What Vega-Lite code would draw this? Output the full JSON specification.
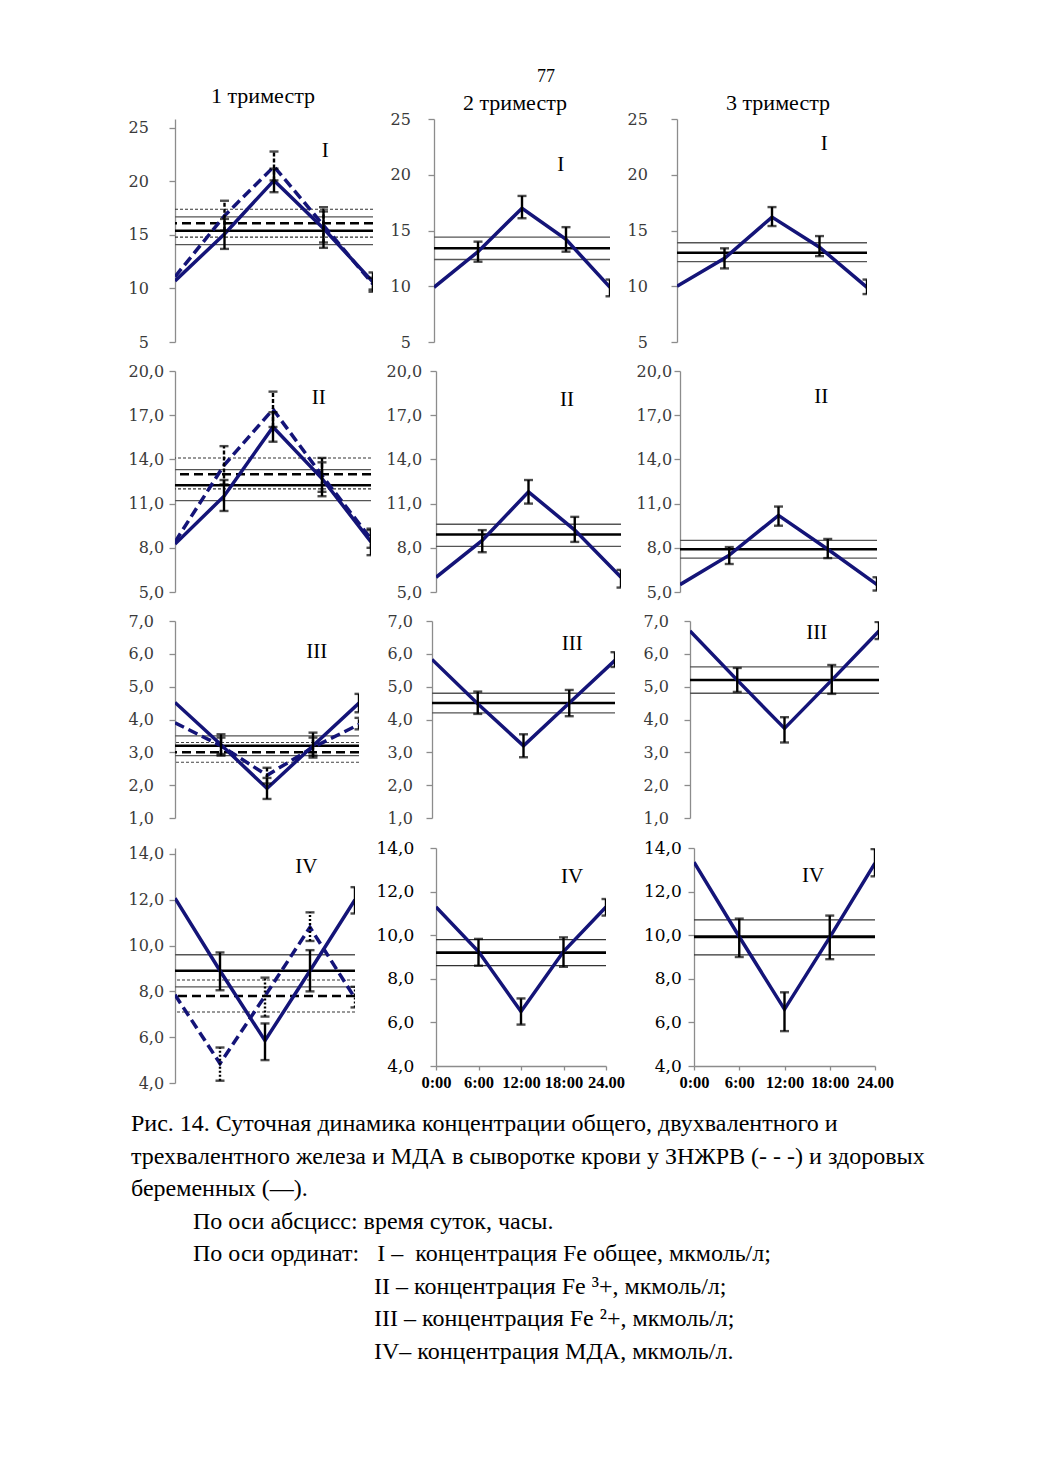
{
"$schema":"https://vega.github.io/schema/vega-lite/v6.json",
"padding":{"left":127,"top":68,"right":20,"bottom":20},
"background":"white",
"title":{"text":"77","fontSize":18,"anchor":"middle","dx":9.5,"offset":-1},
"config":{"view":{"stroke":null},"title":{"font":"Liberation Serif","fontSize":22,"fontWeight":"normal","color":"#000000","anchor":"middle"},
"axis":{"domainColor":"#8c8c8c","tickColor":"#8c8c8c","domainWidth":1.3,"tickWidth":1.3,"tickSize":6,"labelFont":"DejaVu Serif","labelFontSize":16,"labelColor":"#3a3a3a","grid":false,"labelOverlap":false}},
"datasets":{
"hl":[
{"p":"r1c1","k":"c","v":16.7},{"p":"r1c1","k":"m","v":15.4},{"p":"r1c1","k":"c","v":14.1},{"p":"r1c1","k":"zc","v":17.4},{"p":"r1c1","k":"zm","v":16.1},{"p":"r1c1","k":"zc","v":14.8},
{"p":"r1c2","k":"c","v":14.4},{"p":"r1c2","k":"m","v":13.4},{"p":"r1c2","k":"c","v":12.4},
{"p":"r1c3","k":"c","v":13.9},{"p":"r1c3","k":"m","v":13.0},{"p":"r1c3","k":"c","v":12.2},
{"p":"r2c1","k":"zc","v":14.1},{"p":"r2c1","k":"c","v":13.3},{"p":"r2c1","k":"zm","v":13.0},{"p":"r2c1","k":"m","v":12.25},{"p":"r2c1","k":"zc","v":12.0},{"p":"r2c1","k":"c","v":11.2},
{"p":"r2c2","k":"c","v":9.6},{"p":"r2c2","k":"m","v":8.9},{"p":"r2c2","k":"c","v":8.1},
{"p":"r2c3","k":"c","v":8.5},{"p":"r2c3","k":"m","v":7.9},{"p":"r2c3","k":"c","v":7.3},
{"p":"r3c1","k":"c","v":3.5},{"p":"r3c1","k":"zc","v":3.3},{"p":"r3c1","k":"m","v":3.2},{"p":"r3c1","k":"zm","v":3.0},{"p":"r3c1","k":"c","v":2.9},{"p":"r3c1","k":"zc","v":2.7},
{"p":"r3c2","k":"c","v":4.8},{"p":"r3c2","k":"m","v":4.5},{"p":"r3c2","k":"c","v":4.2},
{"p":"r3c3","k":"c","v":5.6},{"p":"r3c3","k":"m","v":5.2},{"p":"r3c3","k":"c","v":4.8},
{"p":"r4c1","k":"c","v":9.6},{"p":"r4c1","k":"m","v":8.9},{"p":"r4c1","k":"zc","v":8.5},{"p":"r4c1","k":"c","v":8.2},{"p":"r4c1","k":"zm","v":7.8},{"p":"r4c1","k":"zc","v":7.1},
{"p":"r4c2","k":"c","v":9.8},{"p":"r4c2","k":"m","v":9.2},{"p":"r4c2","k":"c","v":8.6},
{"p":"r4c3","k":"c","v":10.7},{"p":"r4c3","k":"m","v":9.93},{"p":"r4c3","k":"c","v":9.1}
],
"pts":[
{"p":"r1c1","s":"h","t":0,"v":10.7},{"p":"r1c1","s":"h","t":6,"v":15.1,"lo":13.7,"hi":16.5},{"p":"r1c1","s":"h","t":12,"v":20.1,"lo":19.0,"hi":21.2},{"p":"r1c1","s":"h","t":18,"v":15.6,"lo":13.8,"hi":17.2},{"p":"r1c1","s":"h","t":24,"v":10.6,"lo":9.7,"hi":11.5},
{"p":"r1c1","s":"z","t":0,"v":11.1},{"p":"r1c1","s":"z","t":6,"v":16.8,"lo":15.4,"hi":18.2},{"p":"r1c1","s":"z","t":12,"v":21.4,"lo":20.1,"hi":22.8},{"p":"r1c1","s":"z","t":18,"v":15.9,"lo":14.3,"hi":17.6},{"p":"r1c1","s":"z","t":24,"v":10.4,"lo":9.9,"hi":11.0},
{"p":"r1c2","s":"h","t":0,"v":9.9},{"p":"r1c2","s":"h","t":6,"v":13.1,"lo":12.2,"hi":14.0},{"p":"r1c2","s":"h","t":12,"v":17.0,"lo":16.1,"hi":18.1},{"p":"r1c2","s":"h","t":18,"v":14.2,"lo":13.1,"hi":15.3},{"p":"r1c2","s":"h","t":24,"v":9.9,"lo":9.1,"hi":10.6},
{"p":"r1c3","s":"h","t":0,"v":10.0},{"p":"r1c3","s":"h","t":6,"v":12.5,"lo":11.6,"hi":13.4},{"p":"r1c3","s":"h","t":12,"v":16.2,"lo":15.4,"hi":17.1},{"p":"r1c3","s":"h","t":18,"v":13.5,"lo":12.7,"hi":14.5},{"p":"r1c3","s":"h","t":24,"v":9.9,"lo":9.3,"hi":10.6},
{"p":"r2c1","s":"h","t":0,"v":8.25},{"p":"r2c1","s":"h","t":6,"v":11.5,"lo":10.5,"hi":12.6},{"p":"r2c1","s":"h","t":12,"v":16.2,"lo":15.2,"hi":17.2},{"p":"r2c1","s":"h","t":18,"v":12.7,"lo":11.5,"hi":13.8},{"p":"r2c1","s":"h","t":24,"v":8.4,"lo":7.5,"hi":9.2},
{"p":"r2c1","s":"z","t":0,"v":8.4},{"p":"r2c1","s":"z","t":6,"v":13.6,"lo":12.3,"hi":14.9},{"p":"r2c1","s":"z","t":12,"v":17.4,"lo":16.2,"hi":18.6},{"p":"r2c1","s":"z","t":18,"v":12.9,"lo":11.8,"hi":14.1},{"p":"r2c1","s":"z","t":24,"v":8.6,"lo":8.0,"hi":9.3},
{"p":"r2c2","s":"h","t":0,"v":6.0},{"p":"r2c2","s":"h","t":6,"v":8.5,"lo":7.7,"hi":9.2},{"p":"r2c2","s":"h","t":12,"v":11.8,"lo":11.0,"hi":12.6},{"p":"r2c2","s":"h","t":18,"v":9.2,"lo":8.4,"hi":10.1},{"p":"r2c2","s":"h","t":24,"v":6.0,"lo":5.3,"hi":6.5},
{"p":"r2c3","s":"h","t":0,"v":5.5},{"p":"r2c3","s":"h","t":6,"v":7.5,"lo":6.9,"hi":8.05},{"p":"r2c3","s":"h","t":12,"v":10.2,"lo":9.5,"hi":10.8},{"p":"r2c3","s":"h","t":18,"v":7.9,"lo":7.3,"hi":8.6},{"p":"r2c3","s":"h","t":24,"v":5.5,"lo":5.1,"hi":6.0},
{"p":"r3c1","s":"h","t":0,"v":4.52},{"p":"r3c1","s":"h","t":6,"v":3.23,"lo":2.9,"hi":3.55},{"p":"r3c1","s":"h","t":12,"v":1.9,"lo":1.58,"hi":2.22},{"p":"r3c1","s":"h","t":18,"v":3.2,"lo":2.84,"hi":3.6},{"p":"r3c1","s":"h","t":24,"v":4.5,"lo":4.22,"hi":4.78},
{"p":"r3c1","s":"z","t":0,"v":3.9},{"p":"r3c1","s":"z","t":6,"v":3.2,"lo":2.95,"hi":3.45},{"p":"r3c1","s":"z","t":12,"v":2.3,"lo":2.05,"hi":2.53},{"p":"r3c1","s":"z","t":18,"v":3.15,"lo":2.9,"hi":3.45},{"p":"r3c1","s":"z","t":24,"v":3.85,"lo":3.7,"hi":4.05},
{"p":"r3c2","s":"h","t":0,"v":5.83},{"p":"r3c2","s":"h","t":6,"v":4.48,"lo":4.17,"hi":4.85},{"p":"r3c2","s":"h","t":12,"v":3.2,"lo":2.85,"hi":3.55},{"p":"r3c2","s":"h","t":18,"v":4.5,"lo":4.1,"hi":4.9},{"p":"r3c2","s":"h","t":24,"v":5.8,"lo":5.6,"hi":6.05},
{"p":"r3c3","s":"h","t":0,"v":6.7},{"p":"r3c3","s":"h","t":6,"v":5.2,"lo":4.84,"hi":5.57},{"p":"r3c3","s":"h","t":12,"v":3.73,"lo":3.3,"hi":4.07},{"p":"r3c3","s":"h","t":18,"v":5.2,"lo":4.78,"hi":5.66},{"p":"r3c3","s":"h","t":24,"v":6.7,"lo":6.45,"hi":6.97},
{"p":"r4c1","s":"h","t":0,"v":12.07},{"p":"r4c1","s":"h","t":6,"v":8.9,"lo":8.05,"hi":9.7},{"p":"r4c1","s":"h","t":12,"v":5.85,"lo":5.0,"hi":6.6},{"p":"r4c1","s":"h","t":18,"v":8.9,"lo":8.0,"hi":9.8},{"p":"r4c1","s":"h","t":24,"v":12.0,"lo":11.4,"hi":12.55},
{"p":"r4c1","s":"z","t":0,"v":7.85},{"p":"r4c1","s":"z","t":6,"v":4.85,"lo":4.1,"hi":5.55},{"p":"r4c1","s":"z","t":12,"v":7.8,"lo":6.9,"hi":8.6},{"p":"r4c1","s":"z","t":18,"v":10.8,"lo":10.2,"hi":11.45},{"p":"r4c1","s":"z","t":24,"v":7.7,"lo":7.3,"hi":8.2},
{"p":"r4c2","s":"h","t":0,"v":11.3},{"p":"r4c2","s":"h","t":6,"v":9.25,"lo":8.6,"hi":9.83},{"p":"r4c2","s":"h","t":12,"v":6.5,"lo":5.9,"hi":7.1},{"p":"r4c2","s":"h","t":18,"v":9.25,"lo":8.55,"hi":9.9},{"p":"r4c2","s":"h","t":24,"v":11.3,"lo":10.9,"hi":11.66},
{"p":"r4c3","s":"h","t":0,"v":13.35},{"p":"r4c3","s":"h","t":6,"v":9.93,"lo":9.0,"hi":10.76},{"p":"r4c3","s":"h","t":12,"v":6.6,"lo":5.6,"hi":7.38},{"p":"r4c3","s":"h","t":18,"v":9.9,"lo":8.9,"hi":10.9},{"p":"r4c3","s":"h","t":24,"v":13.3,"lo":12.7,"hi":13.95}
],
"cap":[
{"ln":1,"ind":0,"txt":"Рис. 14. Суточная динамика концентрации общего, двухвалентного и"},
{"ln":2,"ind":0,"txt":"трехвалентного железа и МДА в сыворотке крови у ЗНЖРВ (- - -) и здоровых"},
{"ln":3,"ind":0,"txt":"беременных (—)."},
{"ln":4,"ind":1,"txt":"По оси абсцисс: время суток, часы."},
{"ln":5,"ind":1,"txt":"По оси ординат:\u00a0\u00a0\u00a0I –\u00a0\u00a0концентрация Fe общее, мкмоль/л;"},
{"ln":6,"ind":2,"txt":"II – концентрация Fe ³+, мкмоль/л;"},
{"ln":7,"ind":2,"txt":"III – концентрация Fe ²+, мкмоль/л;"},
{"ln":8,"ind":2,"txt":"IV– концентрация МДА, мкмоль/л."}
]},
"vconcat":[
{"hconcat":[
{"width":198,"height":223,"title":{"text":"1 триместр","offset":11,"dx":-11},"layer":[
{"data":{"name":"hl"},"transform":[{"filter":"datum.p=='r1c1'&&datum.k=='c'"}],"mark":{"type":"rule","color":"#555555","strokeWidth":1.3},"encoding":{"y":{"field":"v","type":"quantitative","title":null,"scale":{"domain":[5,25.84],"nice":false,"zero":false},"axis":{"values":[5,10,15,20,25],"tickCount":10,"labelPadding":20.6,"labelOverlap":false}}}},
{"data":{"name":"hl"},"transform":[{"filter":"datum.p=='r1c1'&&datum.k=='zc'"}],"mark":{"type":"rule","color":"#333333","strokeWidth":1.1,"strokeDash":[3,2]},"encoding":{"y":{"field":"v","type":"quantitative","title":null,"scale":{"domain":[5,25.84],"nice":false,"zero":false}}}},
{"data":{"name":"hl"},"transform":[{"filter":"datum.p=='r1c1'&&datum.k=='m'"}],"mark":{"type":"rule","color":"#000000","strokeWidth":2.5},"encoding":{"y":{"field":"v","type":"quantitative","title":null,"scale":{"domain":[5,25.84],"nice":false,"zero":false}}}},
{"data":{"name":"hl"},"transform":[{"filter":"datum.p=='r1c1'&&datum.k=='zm'"}],"mark":{"type":"rule","color":"#000000","strokeWidth":2.5,"strokeDash":[9,5]},"encoding":{"y":{"field":"v","type":"quantitative","title":null,"scale":{"domain":[5,25.84],"nice":false,"zero":false}}}},
{"data":{"name":"pts"},"transform":[{"filter":"datum.p=='r1c1'&&datum.s=='z'"}],"mark":{"type":"line","clip":true,"color":"#141478","strokeWidth":3.5,"strokeDash":[10,5]},"encoding":{"x":{"field":"t","type":"quantitative","title":null,"scale":{"domain":[0,24],"nice":false},"axis":null},"y":{"field":"v","type":"quantitative","title":null,"scale":{"domain":[5,25.84],"nice":false,"zero":false}}}},
{"data":{"name":"pts"},"transform":[{"filter":"datum.p=='r1c1'&&datum.s=='h'"}],"mark":{"type":"line","clip":true,"color":"#141478","strokeWidth":3.5},"encoding":{"x":{"field":"t","type":"quantitative","title":null,"scale":{"domain":[0,24],"nice":false},"axis":null},"y":{"field":"v","type":"quantitative","title":null,"scale":{"domain":[5,25.84],"nice":false,"zero":false}}}},
{"data":{"name":"pts"},"transform":[{"filter":"datum.p=='r1c1'&&datum.s=='z'&&isValid(datum.lo)"}],"mark":{"type":"rule","clip":true,"color":"#000000","strokeWidth":2.4,"strokeDash":[4,2]},"encoding":{"x":{"field":"t","type":"quantitative","title":null,"scale":{"domain":[0,24],"nice":false},"axis":null},"y":{"field":"lo","type":"quantitative","title":null,"scale":{"domain":[5,25.84],"nice":false,"zero":false}},"y2":{"field":"hi"}}},
{"data":{"name":"pts"},"transform":[{"filter":"datum.p=='r1c1'&&datum.s=='h'&&isValid(datum.lo)"}],"mark":{"type":"rule","clip":true,"color":"#000000","strokeWidth":2.4},"encoding":{"x":{"field":"t","type":"quantitative","title":null,"scale":{"domain":[0,24],"nice":false},"axis":null},"y":{"field":"lo","type":"quantitative","title":null,"scale":{"domain":[5,25.84],"nice":false,"zero":false}},"y2":{"field":"hi"}}},
{"data":{"name":"pts"},"transform":[{"filter":"datum.p=='r1c1'&&isValid(datum.lo)"}],"mark":{"type":"tick","orient":"horizontal","clip":true,"color":"#000000","thickness":2.4,"size":9},"encoding":{"x":{"field":"t","type":"quantitative","title":null,"scale":{"domain":[0,24],"nice":false},"axis":null},"y":{"field":"lo","type":"quantitative","title":null,"scale":{"domain":[5,25.84],"nice":false,"zero":false}}}},
{"data":{"name":"pts"},"transform":[{"filter":"datum.p=='r1c1'&&isValid(datum.lo)"}],"mark":{"type":"tick","orient":"horizontal","clip":true,"color":"#000000","thickness":2.4,"size":9},"encoding":{"x":{"field":"t","type":"quantitative","title":null,"scale":{"domain":[0,24],"nice":false},"axis":null},"y":{"field":"hi","type":"quantitative","title":null,"scale":{"domain":[5,25.84],"nice":false,"zero":false}}}},
{"data":{"values":[{}]},"mark":{"type":"text","font":"Liberation Serif","fontSize":21,"color":"#000000"},"encoding":{"x":{"datum":18.2,"type":"quantitative","title":null,"scale":{"domain":[0,24],"nice":false},"axis":null},"y":{"datum":22.85,"type":"quantitative","title":null,"scale":{"domain":[5,25.84],"nice":false,"zero":false}},"text":{"value":"I"}}}
]},
{"width":176,"height":223,"title":{"text":"2 триместр","offset":9,"dy":13,"dx":-7},"layer":[
{"data":{"name":"hl"},"transform":[{"filter":"datum.p=='r1c2'&&datum.k=='c'"}],"mark":{"type":"rule","color":"#555555","strokeWidth":1.3},"encoding":{"y":{"field":"v","type":"quantitative","title":null,"scale":{"domain":[5,25],"nice":false,"zero":false},"axis":{"values":[5,10,15,20,25],"tickCount":10,"labelPadding":17.6,"labelOverlap":false}}}},
{"data":{"name":"hl"},"transform":[{"filter":"datum.p=='r1c2'&&datum.k=='m'"}],"mark":{"type":"rule","color":"#000000","strokeWidth":2.5},"encoding":{"y":{"field":"v","type":"quantitative","title":null,"scale":{"domain":[5,25],"nice":false,"zero":false}}}},
{"data":{"name":"pts"},"transform":[{"filter":"datum.p=='r1c2'&&datum.s=='h'"}],"mark":{"type":"line","clip":true,"color":"#141478","strokeWidth":3.5},"encoding":{"x":{"field":"t","type":"quantitative","title":null,"scale":{"domain":[0,24],"nice":false},"axis":null},"y":{"field":"v","type":"quantitative","title":null,"scale":{"domain":[5,25],"nice":false,"zero":false}}}},
{"data":{"name":"pts"},"transform":[{"filter":"datum.p=='r1c2'&&isValid(datum.lo)"}],"mark":{"type":"rule","clip":true,"color":"#000000","strokeWidth":2.4},"encoding":{"x":{"field":"t","type":"quantitative","title":null,"scale":{"domain":[0,24],"nice":false},"axis":null},"y":{"field":"lo","type":"quantitative","title":null,"scale":{"domain":[5,25],"nice":false,"zero":false}},"y2":{"field":"hi"}}},
{"data":{"name":"pts"},"transform":[{"filter":"datum.p=='r1c2'&&isValid(datum.lo)"}],"mark":{"type":"tick","orient":"horizontal","clip":true,"color":"#000000","thickness":2.4,"size":9},"encoding":{"x":{"field":"t","type":"quantitative","title":null,"scale":{"domain":[0,24],"nice":false},"axis":null},"y":{"field":"lo","type":"quantitative","title":null,"scale":{"domain":[5,25],"nice":false,"zero":false}}}},
{"data":{"name":"pts"},"transform":[{"filter":"datum.p=='r1c2'&&isValid(datum.lo)"}],"mark":{"type":"tick","orient":"horizontal","clip":true,"color":"#000000","thickness":2.4,"size":9},"encoding":{"x":{"field":"t","type":"quantitative","title":null,"scale":{"domain":[0,24],"nice":false},"axis":null},"y":{"field":"hi","type":"quantitative","title":null,"scale":{"domain":[5,25],"nice":false,"zero":false}}}},
{"data":{"values":[{}]},"mark":{"type":"text","font":"Liberation Serif","fontSize":21,"color":"#000000"},"encoding":{"x":{"datum":17.3,"type":"quantitative","title":null,"scale":{"domain":[0,24],"nice":false},"axis":null},"y":{"datum":20.9,"type":"quantitative","title":null,"scale":{"domain":[5,25],"nice":false,"zero":false}},"text":{"value":"I"}}}
]},
{"width":190,"height":223,"title":{"text":"3 триместр","offset":9,"dy":13,"dx":6},"layer":[
{"data":{"name":"hl"},"transform":[{"filter":"datum.p=='r1c3'&&datum.k=='c'"}],"mark":{"type":"rule","color":"#555555","strokeWidth":1.3},"encoding":{"y":{"field":"v","type":"quantitative","title":null,"scale":{"domain":[5,25],"nice":false,"zero":false},"axis":{"values":[5,10,15,20,25],"tickCount":10,"labelPadding":23.6,"labelOverlap":false}}}},
{"data":{"name":"hl"},"transform":[{"filter":"datum.p=='r1c3'&&datum.k=='m'"}],"mark":{"type":"rule","color":"#000000","strokeWidth":2.5},"encoding":{"y":{"field":"v","type":"quantitative","title":null,"scale":{"domain":[5,25],"nice":false,"zero":false}}}},
{"data":{"name":"pts"},"transform":[{"filter":"datum.p=='r1c3'&&datum.s=='h'"}],"mark":{"type":"line","clip":true,"color":"#141478","strokeWidth":3.5},"encoding":{"x":{"field":"t","type":"quantitative","title":null,"scale":{"domain":[0,24],"nice":false},"axis":null},"y":{"field":"v","type":"quantitative","title":null,"scale":{"domain":[5,25],"nice":false,"zero":false}}}},
{"data":{"name":"pts"},"transform":[{"filter":"datum.p=='r1c3'&&isValid(datum.lo)"}],"mark":{"type":"rule","clip":true,"color":"#000000","strokeWidth":2.4},"encoding":{"x":{"field":"t","type":"quantitative","title":null,"scale":{"domain":[0,24],"nice":false},"axis":null},"y":{"field":"lo","type":"quantitative","title":null,"scale":{"domain":[5,25],"nice":false,"zero":false}},"y2":{"field":"hi"}}},
{"data":{"name":"pts"},"transform":[{"filter":"datum.p=='r1c3'&&isValid(datum.lo)"}],"mark":{"type":"tick","orient":"horizontal","clip":true,"color":"#000000","thickness":2.4,"size":9},"encoding":{"x":{"field":"t","type":"quantitative","title":null,"scale":{"domain":[0,24],"nice":false},"axis":null},"y":{"field":"lo","type":"quantitative","title":null,"scale":{"domain":[5,25],"nice":false,"zero":false}}}},
{"data":{"name":"pts"},"transform":[{"filter":"datum.p=='r1c3'&&isValid(datum.lo)"}],"mark":{"type":"tick","orient":"horizontal","clip":true,"color":"#000000","thickness":2.4,"size":9},"encoding":{"x":{"field":"t","type":"quantitative","title":null,"scale":{"domain":[0,24],"nice":false},"axis":null},"y":{"field":"hi","type":"quantitative","title":null,"scale":{"domain":[5,25],"nice":false,"zero":false}}}},
{"data":{"values":[{}]},"mark":{"type":"text","font":"Liberation Serif","fontSize":21,"color":"#000000"},"encoding":{"x":{"datum":18.6,"type":"quantitative","title":null,"scale":{"domain":[0,24],"nice":false},"axis":null},"y":{"datum":22.75,"type":"quantitative","title":null,"scale":{"domain":[5,25],"nice":false,"zero":false}},"text":{"value":"I"}}}
]}
],"spacing":15},
{"hconcat":[
{"width":196,"height":221,"layer":[
{"data":{"name":"hl"},"transform":[{"filter":"datum.p=='r2c1'&&datum.k=='c'"}],"mark":{"type":"rule","color":"#555555","strokeWidth":1.3},"encoding":{"y":{"field":"v","type":"quantitative","title":null,"scale":{"domain":[5,20],"nice":false,"zero":false},"axis":{"values":[5,8,11,14,17,20],"tickCount":10,"labelExpr":"replace(format(datum.value,'.1f'),'.',',')","labelPadding":5.4,"labelOverlap":false}}}},
{"data":{"name":"hl"},"transform":[{"filter":"datum.p=='r2c1'&&datum.k=='zc'"}],"mark":{"type":"rule","color":"#333333","strokeWidth":1.1,"strokeDash":[3,2]},"encoding":{"y":{"field":"v","type":"quantitative","title":null,"scale":{"domain":[5,20],"nice":false,"zero":false}}}},
{"data":{"name":"hl"},"transform":[{"filter":"datum.p=='r2c1'&&datum.k=='m'"}],"mark":{"type":"rule","color":"#000000","strokeWidth":2.5},"encoding":{"y":{"field":"v","type":"quantitative","title":null,"scale":{"domain":[5,20],"nice":false,"zero":false}}}},
{"data":{"name":"hl"},"transform":[{"filter":"datum.p=='r2c1'&&datum.k=='zm'"}],"mark":{"type":"rule","color":"#000000","strokeWidth":2.5,"strokeDash":[9,5]},"encoding":{"y":{"field":"v","type":"quantitative","title":null,"scale":{"domain":[5,20],"nice":false,"zero":false}}}},
{"data":{"name":"pts"},"transform":[{"filter":"datum.p=='r2c1'&&datum.s=='z'"}],"mark":{"type":"line","clip":true,"color":"#141478","strokeWidth":3.5,"strokeDash":[10,5]},"encoding":{"x":{"field":"t","type":"quantitative","title":null,"scale":{"domain":[0,24],"nice":false},"axis":null},"y":{"field":"v","type":"quantitative","title":null,"scale":{"domain":[5,20],"nice":false,"zero":false}}}},
{"data":{"name":"pts"},"transform":[{"filter":"datum.p=='r2c1'&&datum.s=='h'"}],"mark":{"type":"line","clip":true,"color":"#141478","strokeWidth":3.5},"encoding":{"x":{"field":"t","type":"quantitative","title":null,"scale":{"domain":[0,24],"nice":false},"axis":null},"y":{"field":"v","type":"quantitative","title":null,"scale":{"domain":[5,20],"nice":false,"zero":false}}}},
{"data":{"name":"pts"},"transform":[{"filter":"datum.p=='r2c1'&&datum.s=='z'&&isValid(datum.lo)"}],"mark":{"type":"rule","clip":true,"color":"#000000","strokeWidth":2.4,"strokeDash":[4,2]},"encoding":{"x":{"field":"t","type":"quantitative","title":null,"scale":{"domain":[0,24],"nice":false},"axis":null},"y":{"field":"lo","type":"quantitative","title":null,"scale":{"domain":[5,20],"nice":false,"zero":false}},"y2":{"field":"hi"}}},
{"data":{"name":"pts"},"transform":[{"filter":"datum.p=='r2c1'&&datum.s=='h'&&isValid(datum.lo)"}],"mark":{"type":"rule","clip":true,"color":"#000000","strokeWidth":2.4},"encoding":{"x":{"field":"t","type":"quantitative","title":null,"scale":{"domain":[0,24],"nice":false},"axis":null},"y":{"field":"lo","type":"quantitative","title":null,"scale":{"domain":[5,20],"nice":false,"zero":false}},"y2":{"field":"hi"}}},
{"data":{"name":"pts"},"transform":[{"filter":"datum.p=='r2c1'&&isValid(datum.lo)"}],"mark":{"type":"tick","orient":"horizontal","clip":true,"color":"#000000","thickness":2.4,"size":9},"encoding":{"x":{"field":"t","type":"quantitative","title":null,"scale":{"domain":[0,24],"nice":false},"axis":null},"y":{"field":"lo","type":"quantitative","title":null,"scale":{"domain":[5,20],"nice":false,"zero":false}}}},
{"data":{"name":"pts"},"transform":[{"filter":"datum.p=='r2c1'&&isValid(datum.lo)"}],"mark":{"type":"tick","orient":"horizontal","clip":true,"color":"#000000","thickness":2.4,"size":9},"encoding":{"x":{"field":"t","type":"quantitative","title":null,"scale":{"domain":[0,24],"nice":false},"axis":null},"y":{"field":"hi","type":"quantitative","title":null,"scale":{"domain":[5,20],"nice":false,"zero":false}}}},
{"data":{"values":[{}]},"mark":{"type":"text","font":"Liberation Serif","fontSize":21,"color":"#000000"},"encoding":{"x":{"datum":17.6,"type":"quantitative","title":null,"scale":{"domain":[0,24],"nice":false},"axis":null},"y":{"datum":18.2,"type":"quantitative","title":null,"scale":{"domain":[5,20],"nice":false,"zero":false}},"text":{"value":"II"}}}
]},
{"width":185,"height":221,"layer":[
{"data":{"name":"hl"},"transform":[{"filter":"datum.p=='r2c2'&&datum.k=='c'"}],"mark":{"type":"rule","color":"#555555","strokeWidth":1.3},"encoding":{"y":{"field":"v","type":"quantitative","title":null,"scale":{"domain":[5,20],"nice":false,"zero":false},"axis":{"values":[5,8,11,14,17,20],"tickCount":10,"labelExpr":"replace(format(datum.value,'.1f'),'.',',')","labelPadding":8.4,"labelOverlap":false}}}},
{"data":{"name":"hl"},"transform":[{"filter":"datum.p=='r2c2'&&datum.k=='m'"}],"mark":{"type":"rule","color":"#000000","strokeWidth":2.5},"encoding":{"y":{"field":"v","type":"quantitative","title":null,"scale":{"domain":[5,20],"nice":false,"zero":false}}}},
{"data":{"name":"pts"},"transform":[{"filter":"datum.p=='r2c2'&&datum.s=='h'"}],"mark":{"type":"line","clip":true,"color":"#141478","strokeWidth":3.5},"encoding":{"x":{"field":"t","type":"quantitative","title":null,"scale":{"domain":[0,24],"nice":false},"axis":null},"y":{"field":"v","type":"quantitative","title":null,"scale":{"domain":[5,20],"nice":false,"zero":false}}}},
{"data":{"name":"pts"},"transform":[{"filter":"datum.p=='r2c2'&&isValid(datum.lo)"}],"mark":{"type":"rule","clip":true,"color":"#000000","strokeWidth":2.4},"encoding":{"x":{"field":"t","type":"quantitative","title":null,"scale":{"domain":[0,24],"nice":false},"axis":null},"y":{"field":"lo","type":"quantitative","title":null,"scale":{"domain":[5,20],"nice":false,"zero":false}},"y2":{"field":"hi"}}},
{"data":{"name":"pts"},"transform":[{"filter":"datum.p=='r2c2'&&isValid(datum.lo)"}],"mark":{"type":"tick","orient":"horizontal","clip":true,"color":"#000000","thickness":2.4,"size":9},"encoding":{"x":{"field":"t","type":"quantitative","title":null,"scale":{"domain":[0,24],"nice":false},"axis":null},"y":{"field":"lo","type":"quantitative","title":null,"scale":{"domain":[5,20],"nice":false,"zero":false}}}},
{"data":{"name":"pts"},"transform":[{"filter":"datum.p=='r2c2'&&isValid(datum.lo)"}],"mark":{"type":"tick","orient":"horizontal","clip":true,"color":"#000000","thickness":2.4,"size":9},"encoding":{"x":{"field":"t","type":"quantitative","title":null,"scale":{"domain":[0,24],"nice":false},"axis":null},"y":{"field":"hi","type":"quantitative","title":null,"scale":{"domain":[5,20],"nice":false,"zero":false}}}},
{"data":{"values":[{}]},"mark":{"type":"text","font":"Liberation Serif","fontSize":21,"color":"#000000"},"encoding":{"x":{"datum":17.0,"type":"quantitative","title":null,"scale":{"domain":[0,24],"nice":false},"axis":null},"y":{"datum":18.0,"type":"quantitative","title":null,"scale":{"domain":[5,20],"nice":false,"zero":false}},"text":{"value":"II"}}}
]},
{"width":197,"height":221,"layer":[
{"data":{"name":"hl"},"transform":[{"filter":"datum.p=='r2c3'&&datum.k=='c'"}],"mark":{"type":"rule","color":"#555555","strokeWidth":1.3},"encoding":{"y":{"field":"v","type":"quantitative","title":null,"scale":{"domain":[5,20],"nice":false,"zero":false},"axis":{"values":[5,8,11,14,17,20],"tickCount":10,"labelExpr":"replace(format(datum.value,'.1f'),'.',',')","labelPadding":2.4,"labelOverlap":false}}}},
{"data":{"name":"hl"},"transform":[{"filter":"datum.p=='r2c3'&&datum.k=='m'"}],"mark":{"type":"rule","color":"#000000","strokeWidth":2.5},"encoding":{"y":{"field":"v","type":"quantitative","title":null,"scale":{"domain":[5,20],"nice":false,"zero":false}}}},
{"data":{"name":"pts"},"transform":[{"filter":"datum.p=='r2c3'&&datum.s=='h'"}],"mark":{"type":"line","clip":true,"color":"#141478","strokeWidth":3.5},"encoding":{"x":{"field":"t","type":"quantitative","title":null,"scale":{"domain":[0,24],"nice":false},"axis":null},"y":{"field":"v","type":"quantitative","title":null,"scale":{"domain":[5,20],"nice":false,"zero":false}}}},
{"data":{"name":"pts"},"transform":[{"filter":"datum.p=='r2c3'&&isValid(datum.lo)"}],"mark":{"type":"rule","clip":true,"color":"#000000","strokeWidth":2.4},"encoding":{"x":{"field":"t","type":"quantitative","title":null,"scale":{"domain":[0,24],"nice":false},"axis":null},"y":{"field":"lo","type":"quantitative","title":null,"scale":{"domain":[5,20],"nice":false,"zero":false}},"y2":{"field":"hi"}}},
{"data":{"name":"pts"},"transform":[{"filter":"datum.p=='r2c3'&&isValid(datum.lo)"}],"mark":{"type":"tick","orient":"horizontal","clip":true,"color":"#000000","thickness":2.4,"size":9},"encoding":{"x":{"field":"t","type":"quantitative","title":null,"scale":{"domain":[0,24],"nice":false},"axis":null},"y":{"field":"lo","type":"quantitative","title":null,"scale":{"domain":[5,20],"nice":false,"zero":false}}}},
{"data":{"name":"pts"},"transform":[{"filter":"datum.p=='r2c3'&&isValid(datum.lo)"}],"mark":{"type":"tick","orient":"horizontal","clip":true,"color":"#000000","thickness":2.4,"size":9},"encoding":{"x":{"field":"t","type":"quantitative","title":null,"scale":{"domain":[0,24],"nice":false},"axis":null},"y":{"field":"hi","type":"quantitative","title":null,"scale":{"domain":[5,20],"nice":false,"zero":false}}}},
{"data":{"values":[{}]},"mark":{"type":"text","font":"Liberation Serif","fontSize":21,"color":"#000000"},"encoding":{"x":{"datum":17.2,"type":"quantitative","title":null,"scale":{"domain":[0,24],"nice":false},"axis":null},"y":{"datum":18.26,"type":"quantitative","title":null,"scale":{"domain":[5,20],"nice":false,"zero":false}},"text":{"value":"II"}}}
]}
],"spacing":12},
{"hconcat":[
{"width":184,"height":197,"layer":[
{"data":{"name":"hl"},"transform":[{"filter":"datum.p=='r3c1'&&datum.k=='c'"}],"mark":{"type":"rule","color":"#555555","strokeWidth":1.3},"encoding":{"y":{"field":"v","type":"quantitative","title":null,"scale":{"domain":[1,7],"nice":false,"zero":false},"axis":{"values":[1,2,3,4,5,6,7],"tickCount":10,"labelExpr":"replace(format(datum.value,'.1f'),'.',',')","labelPadding":15.6,"labelOverlap":false}}}},
{"data":{"name":"hl"},"transform":[{"filter":"datum.p=='r3c1'&&datum.k=='zc'"}],"mark":{"type":"rule","color":"#444444","strokeWidth":1.1,"strokeDash":[3,2]},"encoding":{"y":{"field":"v","type":"quantitative","title":null,"scale":{"domain":[1,7],"nice":false,"zero":false}}}},
{"data":{"name":"hl"},"transform":[{"filter":"datum.p=='r3c1'&&datum.k=='m'"}],"mark":{"type":"rule","color":"#000000","strokeWidth":2.5},"encoding":{"y":{"field":"v","type":"quantitative","title":null,"scale":{"domain":[1,7],"nice":false,"zero":false}}}},
{"data":{"name":"hl"},"transform":[{"filter":"datum.p=='r3c1'&&datum.k=='zm'"}],"mark":{"type":"rule","color":"#000000","strokeWidth":2.5,"strokeDash":[9,5]},"encoding":{"y":{"field":"v","type":"quantitative","title":null,"scale":{"domain":[1,7],"nice":false,"zero":false}}}},
{"data":{"name":"pts"},"transform":[{"filter":"datum.p=='r3c1'&&datum.s=='z'"}],"mark":{"type":"line","clip":true,"color":"#141478","strokeWidth":3.5,"strokeDash":[10,5]},"encoding":{"x":{"field":"t","type":"quantitative","title":null,"scale":{"domain":[0,24],"nice":false},"axis":null},"y":{"field":"v","type":"quantitative","title":null,"scale":{"domain":[1,7],"nice":false,"zero":false}}}},
{"data":{"name":"pts"},"transform":[{"filter":"datum.p=='r3c1'&&datum.s=='h'"}],"mark":{"type":"line","clip":true,"color":"#141478","strokeWidth":3.5},"encoding":{"x":{"field":"t","type":"quantitative","title":null,"scale":{"domain":[0,24],"nice":false},"axis":null},"y":{"field":"v","type":"quantitative","title":null,"scale":{"domain":[1,7],"nice":false,"zero":false}}}},
{"data":{"name":"pts"},"transform":[{"filter":"datum.p=='r3c1'&&datum.s=='z'&&isValid(datum.lo)"}],"mark":{"type":"rule","clip":true,"color":"#000000","strokeWidth":2.4,"strokeDash":[4,2]},"encoding":{"x":{"field":"t","type":"quantitative","title":null,"scale":{"domain":[0,24],"nice":false},"axis":null},"y":{"field":"lo","type":"quantitative","title":null,"scale":{"domain":[1,7],"nice":false,"zero":false}},"y2":{"field":"hi"}}},
{"data":{"name":"pts"},"transform":[{"filter":"datum.p=='r3c1'&&datum.s=='h'&&isValid(datum.lo)"}],"mark":{"type":"rule","clip":true,"color":"#000000","strokeWidth":2.4},"encoding":{"x":{"field":"t","type":"quantitative","title":null,"scale":{"domain":[0,24],"nice":false},"axis":null},"y":{"field":"lo","type":"quantitative","title":null,"scale":{"domain":[1,7],"nice":false,"zero":false}},"y2":{"field":"hi"}}},
{"data":{"name":"pts"},"transform":[{"filter":"datum.p=='r3c1'&&isValid(datum.lo)"}],"mark":{"type":"tick","orient":"horizontal","clip":true,"color":"#000000","thickness":2.4,"size":9},"encoding":{"x":{"field":"t","type":"quantitative","title":null,"scale":{"domain":[0,24],"nice":false},"axis":null},"y":{"field":"lo","type":"quantitative","title":null,"scale":{"domain":[1,7],"nice":false,"zero":false}}}},
{"data":{"name":"pts"},"transform":[{"filter":"datum.p=='r3c1'&&isValid(datum.lo)"}],"mark":{"type":"tick","orient":"horizontal","clip":true,"color":"#000000","thickness":2.4,"size":9},"encoding":{"x":{"field":"t","type":"quantitative","title":null,"scale":{"domain":[0,24],"nice":false},"axis":null},"y":{"field":"hi","type":"quantitative","title":null,"scale":{"domain":[1,7],"nice":false,"zero":false}}}},
{"data":{"values":[{}]},"mark":{"type":"text","font":"Liberation Serif","fontSize":21,"color":"#000000"},"encoding":{"x":{"datum":18.5,"type":"quantitative","title":null,"scale":{"domain":[0,24],"nice":false},"axis":null},"y":{"datum":6.05,"type":"quantitative","title":null,"scale":{"domain":[1,7],"nice":false,"zero":false}},"text":{"value":"III"}}}
]},
{"width":183,"height":197,"layer":[
{"data":{"name":"hl"},"transform":[{"filter":"datum.p=='r3c2'&&datum.k=='c'"}],"mark":{"type":"rule","color":"#555555","strokeWidth":1.3},"encoding":{"y":{"field":"v","type":"quantitative","title":null,"scale":{"domain":[1,7],"nice":false,"zero":false},"axis":{"values":[1,2,3,4,5,6,7],"tickCount":10,"labelExpr":"replace(format(datum.value,'.1f'),'.',',')","labelPadding":13.6,"labelOverlap":false}}}},
{"data":{"name":"hl"},"transform":[{"filter":"datum.p=='r3c2'&&datum.k=='m'"}],"mark":{"type":"rule","color":"#000000","strokeWidth":2.5},"encoding":{"y":{"field":"v","type":"quantitative","title":null,"scale":{"domain":[1,7],"nice":false,"zero":false}}}},
{"data":{"name":"pts"},"transform":[{"filter":"datum.p=='r3c2'&&datum.s=='h'"}],"mark":{"type":"line","clip":true,"color":"#141478","strokeWidth":3.5},"encoding":{"x":{"field":"t","type":"quantitative","title":null,"scale":{"domain":[0,24],"nice":false},"axis":null},"y":{"field":"v","type":"quantitative","title":null,"scale":{"domain":[1,7],"nice":false,"zero":false}}}},
{"data":{"name":"pts"},"transform":[{"filter":"datum.p=='r3c2'&&isValid(datum.lo)"}],"mark":{"type":"rule","clip":true,"color":"#000000","strokeWidth":2.4},"encoding":{"x":{"field":"t","type":"quantitative","title":null,"scale":{"domain":[0,24],"nice":false},"axis":null},"y":{"field":"lo","type":"quantitative","title":null,"scale":{"domain":[1,7],"nice":false,"zero":false}},"y2":{"field":"hi"}}},
{"data":{"name":"pts"},"transform":[{"filter":"datum.p=='r3c2'&&isValid(datum.lo)"}],"mark":{"type":"tick","orient":"horizontal","clip":true,"color":"#000000","thickness":2.4,"size":9},"encoding":{"x":{"field":"t","type":"quantitative","title":null,"scale":{"domain":[0,24],"nice":false},"axis":null},"y":{"field":"lo","type":"quantitative","title":null,"scale":{"domain":[1,7],"nice":false,"zero":false}}}},
{"data":{"name":"pts"},"transform":[{"filter":"datum.p=='r3c2'&&isValid(datum.lo)"}],"mark":{"type":"tick","orient":"horizontal","clip":true,"color":"#000000","thickness":2.4,"size":9},"encoding":{"x":{"field":"t","type":"quantitative","title":null,"scale":{"domain":[0,24],"nice":false},"axis":null},"y":{"field":"hi","type":"quantitative","title":null,"scale":{"domain":[1,7],"nice":false,"zero":false}}}},
{"data":{"values":[{}]},"mark":{"type":"text","font":"Liberation Serif","fontSize":21,"color":"#000000"},"encoding":{"x":{"datum":18.4,"type":"quantitative","title":null,"scale":{"domain":[0,24],"nice":false},"axis":null},"y":{"datum":6.3,"type":"quantitative","title":null,"scale":{"domain":[1,7],"nice":false,"zero":false}},"text":{"value":"III"}}}
]},
{"width":189,"height":197,"layer":[
{"data":{"name":"hl"},"transform":[{"filter":"datum.p=='r3c3'&&datum.k=='c'"}],"mark":{"type":"rule","color":"#555555","strokeWidth":1.3},"encoding":{"y":{"field":"v","type":"quantitative","title":null,"scale":{"domain":[1,7],"nice":false,"zero":false},"axis":{"values":[1,2,3,4,5,6,7],"tickCount":10,"labelExpr":"replace(format(datum.value,'.1f'),'.',',')","labelPadding":15.6,"labelOverlap":false}}}},
{"data":{"name":"hl"},"transform":[{"filter":"datum.p=='r3c3'&&datum.k=='m'"}],"mark":{"type":"rule","color":"#000000","strokeWidth":2.5},"encoding":{"y":{"field":"v","type":"quantitative","title":null,"scale":{"domain":[1,7],"nice":false,"zero":false}}}},
{"data":{"name":"pts"},"transform":[{"filter":"datum.p=='r3c3'&&datum.s=='h'"}],"mark":{"type":"line","clip":true,"color":"#141478","strokeWidth":3.5},"encoding":{"x":{"field":"t","type":"quantitative","title":null,"scale":{"domain":[0,24],"nice":false},"axis":null},"y":{"field":"v","type":"quantitative","title":null,"scale":{"domain":[1,7],"nice":false,"zero":false}}}},
{"data":{"name":"pts"},"transform":[{"filter":"datum.p=='r3c3'&&isValid(datum.lo)"}],"mark":{"type":"rule","clip":true,"color":"#000000","strokeWidth":2.4},"encoding":{"x":{"field":"t","type":"quantitative","title":null,"scale":{"domain":[0,24],"nice":false},"axis":null},"y":{"field":"lo","type":"quantitative","title":null,"scale":{"domain":[1,7],"nice":false,"zero":false}},"y2":{"field":"hi"}}},
{"data":{"name":"pts"},"transform":[{"filter":"datum.p=='r3c3'&&isValid(datum.lo)"}],"mark":{"type":"tick","orient":"horizontal","clip":true,"color":"#000000","thickness":2.4,"size":9},"encoding":{"x":{"field":"t","type":"quantitative","title":null,"scale":{"domain":[0,24],"nice":false},"axis":null},"y":{"field":"lo","type":"quantitative","title":null,"scale":{"domain":[1,7],"nice":false,"zero":false}}}},
{"data":{"name":"pts"},"transform":[{"filter":"datum.p=='r3c3'&&isValid(datum.lo)"}],"mark":{"type":"tick","orient":"horizontal","clip":true,"color":"#000000","thickness":2.4,"size":9},"encoding":{"x":{"field":"t","type":"quantitative","title":null,"scale":{"domain":[0,24],"nice":false},"axis":null},"y":{"field":"hi","type":"quantitative","title":null,"scale":{"domain":[1,7],"nice":false,"zero":false}}}},
{"data":{"values":[{}]},"mark":{"type":"text","font":"Liberation Serif","fontSize":21,"color":"#000000"},"encoding":{"x":{"datum":16.1,"type":"quantitative","title":null,"scale":{"domain":[0,24],"nice":false},"axis":null},"y":{"datum":6.63,"type":"quantitative","title":null,"scale":{"domain":[1,7],"nice":false,"zero":false}},"text":{"value":"III"}}}
]}
],"spacing":25},
{"hconcat":[
{"width":180,"height":235,"layer":[
{"data":{"name":"hl"},"transform":[{"filter":"datum.p=='r4c1'&&datum.k=='c'"}],"mark":{"type":"rule","color":"#555555","strokeWidth":1.3},"encoding":{"y":{"field":"v","type":"quantitative","title":null,"scale":{"domain":[4,14.26],"nice":false,"zero":false},"axis":{"values":[4,6,8,10,12,14],"tickCount":10,"labelExpr":"replace(format(datum.value,'.1f'),'.',',')","labelPadding":5.4,"labelOverlap":false}}}},
{"data":{"name":"hl"},"transform":[{"filter":"datum.p=='r4c1'&&datum.k=='zc'"}],"mark":{"type":"rule","color":"#333333","strokeWidth":1.1,"strokeDash":[3,2]},"encoding":{"y":{"field":"v","type":"quantitative","title":null,"scale":{"domain":[4,14.26],"nice":false,"zero":false}}}},
{"data":{"name":"hl"},"transform":[{"filter":"datum.p=='r4c1'&&datum.k=='m'"}],"mark":{"type":"rule","color":"#000000","strokeWidth":2.5},"encoding":{"y":{"field":"v","type":"quantitative","title":null,"scale":{"domain":[4,14.26],"nice":false,"zero":false}}}},
{"data":{"name":"hl"},"transform":[{"filter":"datum.p=='r4c1'&&datum.k=='zm'"}],"mark":{"type":"rule","color":"#000000","strokeWidth":2.5,"strokeDash":[9,5]},"encoding":{"y":{"field":"v","type":"quantitative","title":null,"scale":{"domain":[4,14.26],"nice":false,"zero":false}}}},
{"data":{"name":"pts"},"transform":[{"filter":"datum.p=='r4c1'&&datum.s=='z'"}],"mark":{"type":"line","clip":true,"color":"#141478","strokeWidth":3.5,"strokeDash":[10,5]},"encoding":{"x":{"field":"t","type":"quantitative","title":null,"scale":{"domain":[0,24],"nice":false},"axis":null},"y":{"field":"v","type":"quantitative","title":null,"scale":{"domain":[4,14.26],"nice":false,"zero":false}}}},
{"data":{"name":"pts"},"transform":[{"filter":"datum.p=='r4c1'&&datum.s=='h'"}],"mark":{"type":"line","clip":true,"color":"#141478","strokeWidth":3.5},"encoding":{"x":{"field":"t","type":"quantitative","title":null,"scale":{"domain":[0,24],"nice":false},"axis":null},"y":{"field":"v","type":"quantitative","title":null,"scale":{"domain":[4,14.26],"nice":false,"zero":false}}}},
{"data":{"name":"pts"},"transform":[{"filter":"datum.p=='r4c1'&&datum.s=='z'&&isValid(datum.lo)"}],"mark":{"type":"rule","clip":true,"color":"#000000","strokeWidth":2.4,"strokeDash":[2,2]},"encoding":{"x":{"field":"t","type":"quantitative","title":null,"scale":{"domain":[0,24],"nice":false},"axis":null},"y":{"field":"lo","type":"quantitative","title":null,"scale":{"domain":[4,14.26],"nice":false,"zero":false}},"y2":{"field":"hi"}}},
{"data":{"name":"pts"},"transform":[{"filter":"datum.p=='r4c1'&&datum.s=='h'&&isValid(datum.lo)"}],"mark":{"type":"rule","clip":true,"color":"#000000","strokeWidth":2.4},"encoding":{"x":{"field":"t","type":"quantitative","title":null,"scale":{"domain":[0,24],"nice":false},"axis":null},"y":{"field":"lo","type":"quantitative","title":null,"scale":{"domain":[4,14.26],"nice":false,"zero":false}},"y2":{"field":"hi"}}},
{"data":{"name":"pts"},"transform":[{"filter":"datum.p=='r4c1'&&isValid(datum.lo)"}],"mark":{"type":"tick","orient":"horizontal","clip":true,"color":"#000000","thickness":2.4,"size":9},"encoding":{"x":{"field":"t","type":"quantitative","title":null,"scale":{"domain":[0,24],"nice":false},"axis":null},"y":{"field":"lo","type":"quantitative","title":null,"scale":{"domain":[4,14.26],"nice":false,"zero":false}}}},
{"data":{"name":"pts"},"transform":[{"filter":"datum.p=='r4c1'&&isValid(datum.lo)"}],"mark":{"type":"tick","orient":"horizontal","clip":true,"color":"#000000","thickness":2.4,"size":9},"encoding":{"x":{"field":"t","type":"quantitative","title":null,"scale":{"domain":[0,24],"nice":false},"axis":null},"y":{"field":"hi","type":"quantitative","title":null,"scale":{"domain":[4,14.26],"nice":false,"zero":false}}}},
{"data":{"values":[{}]},"mark":{"type":"text","font":"Liberation Serif","fontSize":21,"color":"#000000"},"encoding":{"x":{"datum":17.5,"type":"quantitative","title":null,"scale":{"domain":[0,24],"nice":false},"axis":null},"y":{"datum":13.43,"type":"quantitative","title":null,"scale":{"domain":[4,14.26],"nice":false,"zero":false}},"text":{"value":"IV"}}}
]},
{"width":170,"height":218,"layer":[
{"data":{"name":"hl"},"transform":[{"filter":"datum.p=='r4c2'&&datum.k=='c'"}],"mark":{"type":"rule","color":"#333333","strokeWidth":1.3},"encoding":{"y":{"field":"v","type":"quantitative","title":null,"scale":{"domain":[4,14],"nice":false,"zero":false},"axis":{"values":[4,6,8,10,12,14],"tickCount":10,"labelExpr":"replace(format(datum.value,'.1f'),'.',',')","labelPadding":16.2,"labelFontSize":17,"labelColor":"#000000","labelOverlap":false}}}},
{"data":{"name":"hl"},"transform":[{"filter":"datum.p=='r4c2'&&datum.k=='m'"}],"mark":{"type":"rule","color":"#000000","strokeWidth":2.8},"encoding":{"y":{"field":"v","type":"quantitative","title":null,"scale":{"domain":[4,14],"nice":false,"zero":false}}}},
{"data":{"name":"pts"},"transform":[{"filter":"datum.p=='r4c2'&&datum.s=='h'"}],"mark":{"type":"line","clip":true,"color":"#141478","strokeWidth":3.5},"encoding":{"x":{"field":"t","type":"quantitative","title":null,"scale":{"domain":[0,24],"nice":false},"axis":{"values":[0,6,12,18,24],"tickCount":10,"labelExpr":"datum.value==24?'24.00':datum.value+':00'","labelFont":"Liberation Serif","labelFontWeight":"bold","labelFontSize":16.5,"labelColor":"#000000","labelPadding":4,"tickSize":4,"labelFlush":false,"labelOverlap":false}},"y":{"field":"v","type":"quantitative","title":null,"scale":{"domain":[4,14],"nice":false,"zero":false}}}},
{"data":{"name":"pts"},"transform":[{"filter":"datum.p=='r4c2'&&isValid(datum.lo)"}],"mark":{"type":"rule","clip":true,"color":"#000000","strokeWidth":2.4},"encoding":{"x":{"field":"t","type":"quantitative","title":null,"scale":{"domain":[0,24],"nice":false}},"y":{"field":"lo","type":"quantitative","title":null,"scale":{"domain":[4,14],"nice":false,"zero":false}},"y2":{"field":"hi"}}},
{"data":{"name":"pts"},"transform":[{"filter":"datum.p=='r4c2'&&isValid(datum.lo)"}],"mark":{"type":"tick","orient":"horizontal","clip":true,"color":"#000000","thickness":2.4,"size":9},"encoding":{"x":{"field":"t","type":"quantitative","title":null,"scale":{"domain":[0,24],"nice":false}},"y":{"field":"lo","type":"quantitative","title":null,"scale":{"domain":[4,14],"nice":false,"zero":false}}}},
{"data":{"name":"pts"},"transform":[{"filter":"datum.p=='r4c2'&&isValid(datum.lo)"}],"mark":{"type":"tick","orient":"horizontal","clip":true,"color":"#000000","thickness":2.4,"size":9},"encoding":{"x":{"field":"t","type":"quantitative","title":null,"scale":{"domain":[0,24],"nice":false}},"y":{"field":"hi","type":"quantitative","title":null,"scale":{"domain":[4,14],"nice":false,"zero":false}}}},
{"data":{"values":[{}]},"mark":{"type":"text","font":"Liberation Serif","fontSize":21,"color":"#000000"},"encoding":{"x":{"datum":19.2,"type":"quantitative","title":null,"scale":{"domain":[0,24],"nice":false}},"y":{"datum":12.67,"type":"quantitative","title":null,"scale":{"domain":[4,14],"nice":false,"zero":false}},"text":{"value":"IV"}}}
]},
{"width":181,"height":218,"layer":[
{"data":{"name":"hl"},"transform":[{"filter":"datum.p=='r4c3'&&datum.k=='c'"}],"mark":{"type":"rule","color":"#333333","strokeWidth":1.3},"encoding":{"y":{"field":"v","type":"quantitative","title":null,"scale":{"domain":[4,14],"nice":false,"zero":false},"axis":{"values":[4,6,8,10,12,14],"tickCount":10,"labelExpr":"replace(format(datum.value,'.1f'),'.',',')","labelPadding":6.7,"labelFontSize":17,"labelColor":"#000000","labelOverlap":false}}}},
{"data":{"name":"hl"},"transform":[{"filter":"datum.p=='r4c3'&&datum.k=='m'"}],"mark":{"type":"rule","color":"#000000","strokeWidth":2.8},"encoding":{"y":{"field":"v","type":"quantitative","title":null,"scale":{"domain":[4,14],"nice":false,"zero":false}}}},
{"data":{"name":"pts"},"transform":[{"filter":"datum.p=='r4c3'&&datum.s=='h'"}],"mark":{"type":"line","clip":true,"color":"#141478","strokeWidth":3.5},"encoding":{"x":{"field":"t","type":"quantitative","title":null,"scale":{"domain":[0,24],"nice":false},"axis":{"values":[0,6,12,18,24],"tickCount":10,"labelExpr":"datum.value==24?'24.00':datum.value+':00'","labelFont":"Liberation Serif","labelFontWeight":"bold","labelFontSize":16.5,"labelColor":"#000000","labelPadding":4,"tickSize":4,"labelFlush":false,"labelOverlap":false}},"y":{"field":"v","type":"quantitative","title":null,"scale":{"domain":[4,14],"nice":false,"zero":false}}}},
{"data":{"name":"pts"},"transform":[{"filter":"datum.p=='r4c3'&&isValid(datum.lo)"}],"mark":{"type":"rule","clip":true,"color":"#000000","strokeWidth":2.4},"encoding":{"x":{"field":"t","type":"quantitative","title":null,"scale":{"domain":[0,24],"nice":false}},"y":{"field":"lo","type":"quantitative","title":null,"scale":{"domain":[4,14],"nice":false,"zero":false}},"y2":{"field":"hi"}}},
{"data":{"name":"pts"},"transform":[{"filter":"datum.p=='r4c3'&&isValid(datum.lo)"}],"mark":{"type":"tick","orient":"horizontal","clip":true,"color":"#000000","thickness":2.4,"size":9},"encoding":{"x":{"field":"t","type":"quantitative","title":null,"scale":{"domain":[0,24],"nice":false}},"y":{"field":"lo","type":"quantitative","title":null,"scale":{"domain":[4,14],"nice":false,"zero":false}}}},
{"data":{"name":"pts"},"transform":[{"filter":"datum.p=='r4c3'&&isValid(datum.lo)"}],"mark":{"type":"tick","orient":"horizontal","clip":true,"color":"#000000","thickness":2.4,"size":9},"encoding":{"x":{"field":"t","type":"quantitative","title":null,"scale":{"domain":[0,24],"nice":false}},"y":{"field":"hi","type":"quantitative","title":null,"scale":{"domain":[4,14],"nice":false,"zero":false}}}},
{"data":{"values":[{}]},"mark":{"type":"text","font":"Liberation Serif","fontSize":21,"color":"#000000"},"encoding":{"x":{"datum":15.8,"type":"quantitative","title":null,"scale":{"domain":[0,24],"nice":false}},"y":{"datum":12.7,"type":"quantitative","title":null,"scale":{"domain":[4,14],"nice":false,"zero":false}},"text":{"value":"IV"}}}
]}
],"spacing":18},
{"width":770,"height":264,"data":{"name":"cap"},"mark":{"type":"text","align":"left","baseline":"middle","font":"Liberation Serif","fontSize":24,"color":"#000000"},
"encoding":{"x":{"field":"ind","type":"quantitative","title":null,"scale":{"domain":[0,1,2],"range":[-44,18,199]},"axis":null},"y":{"field":"ln","type":"quantitative","title":null,"scale":{"domain":[0.385,8.5],"reverse":true,"nice":false,"zero":false},"axis":null},"text":{"field":"txt"}}}
],
"spacing":13
}
